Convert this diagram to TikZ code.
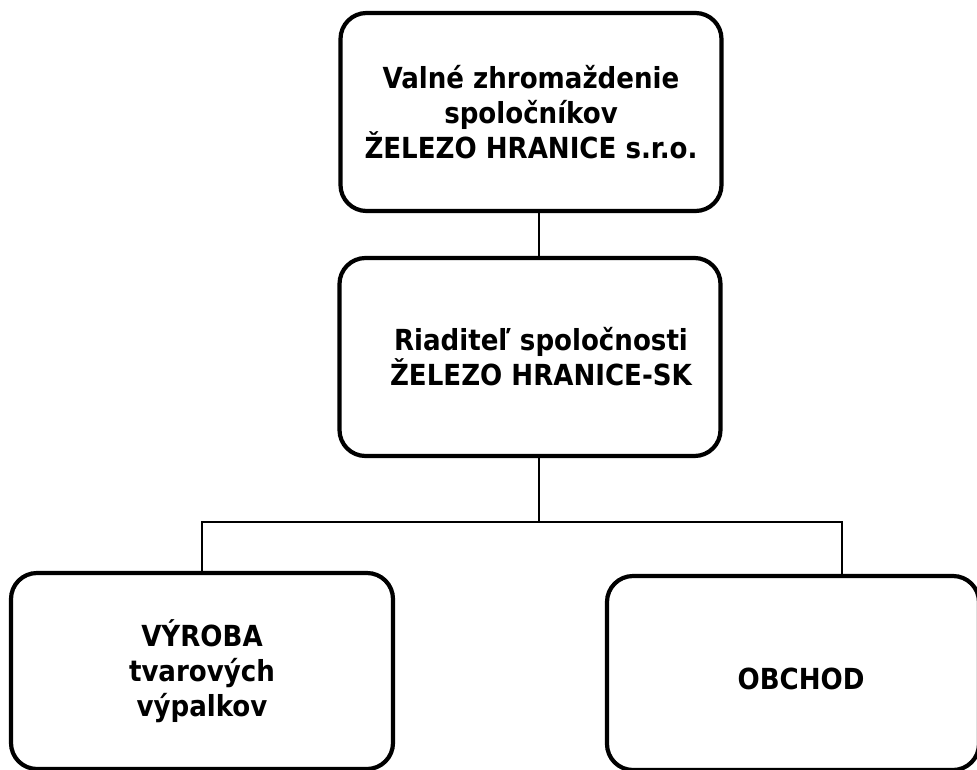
\documentclass[tikz,border=0pt]{standalone}
\usepackage{fontspec}
\setmainfont{DejaVu Sans Condensed}
\begin{document}
\begin{tikzpicture}[x=1pt,y=-1pt]
\tikzstyle{box}=[draw=black, line width=4.2pt, rounded corners=26pt, align=center, inner sep=0pt, font=\bfseries\fontsize{29}{35}\selectfont]
\tikzstyle{spoj}=[draw=black, line width=1.8pt]
\useasboundingbox (0,0) rectangle (977,769);
\node [box, minimum width=381pt, minimum height=198pt] (zhromazdenie) at (531,112) {Valné zhromaždenie\\spoločníkov\\ŽELEZO HRANICE s.r.o.};
\node [box, minimum width=381pt, minimum height=198pt] (riaditel) at (530,357) {\hspace*{22pt}Riaditeľ spoločnosti\\\hspace*{22pt}ŽELEZO HRANICE-SK};
\node [box, minimum width=382pt, minimum height=196pt] (vyroba) at (202,671) {VÝROBA\\tvarových\\výpalkov};
\node [box, minimum width=372pt, minimum height=194pt] (obchod) at (793,673) {\hspace*{16pt}\raisebox{-6pt}[\height][\depth]{OBCHOD}};
\coordinate (rozvod) at (539,522);
\coordinate (odbocka) at (842,522);
\draw [spoj] (zhromazdenie.south -| rozvod) -- (riaditel.north -| rozvod);
\draw [spoj] (riaditel.south -| rozvod) -- (rozvod);
\draw [spoj] (vyroba.north) |- (odbocka) -- (odbocka |- obchod.north);
\end{tikzpicture}
\end{document}
